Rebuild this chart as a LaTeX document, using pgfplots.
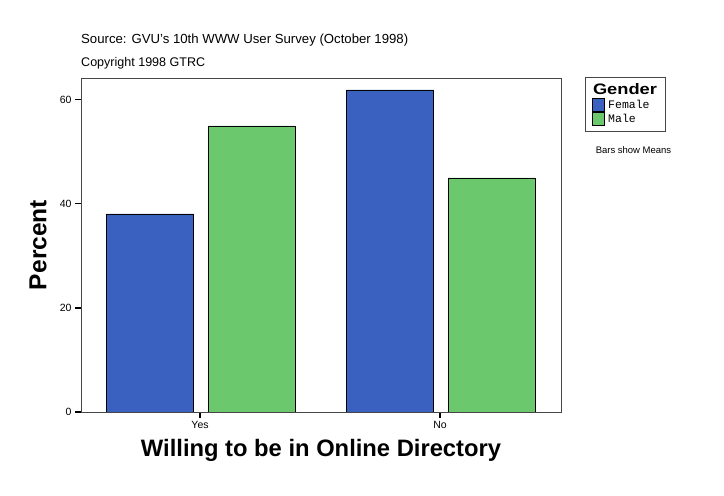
\documentclass[border=0pt]{standalone}
\usepackage{fontspec}
\setmainfont{Liberation Sans}
\newfontfamily\monofont{Liberation Mono}
\usepackage{pgfplots}
\pgfplotsset{compat=1.18}
\definecolor{fem}{RGB}{58,96,192}
\definecolor{mal}{RGB}{108,200,108}
\definecolor{framec}{RGB}{70,70,70}

\begin{document}
\begin{tikzpicture}[x=1pt,y=1pt]
\path[fill=white] (0,0) rectangle (724,496);
\begin{axis}[
  at={(81pt,84pt)}, anchor=south west,
  width=480pt, height=334pt, scale only axis,
  xmin=-0.496, xmax=1.504, ymin=0, ymax=64.2,
  xtick={0,1}, xticklabels={Yes,No},
  ytick={0,20,40,60},
  tick pos=left, tick align=outside,
  major tick length=6pt,
  tick style={black, line width=1.2pt},
  axis line style={framec},
  ticklabel style={font=\fontsize{10.5}{12}\selectfont},
  /pgf/number format/assume math mode=true,
  ybar, bar width=0.3625,
]
\addplot[fill=fem, draw=black, bar shift=-0.208] coordinates {(0,38.1) (1,61.9)};
\addplot[fill=mal, draw=black, bar shift=0.215] coordinates {(0,55) (1,45)};
\end{axis}
\node[anchor=west, inner sep=0pt] at (81,456) {\resizebox{327pt}{!}{Source: GVU's 10th WWW User Survey (October 1998)}};
\node[anchor=west, inner sep=0pt] at (81,433) {\resizebox{124pt}{!}{Copyright 1998 GTRC}};
\node at (321,46) {\resizebox{360pt}{!}{\bfseries Willing to be in Online Directory}};
\node[rotate=90] at (38,251) {\resizebox{90pt}{!}{\bfseries Percent}};
\draw[framec] (585,419) rectangle (665,365);
\node at (625,407) {\resizebox{64pt}{11pt}{\bfseries Gender}};
\draw[fill=fem] (592,398) rectangle (604,385);
\draw[fill=mal] (592,384) rectangle (604,371);
\node[anchor=west, font=\monofont\fontsize{11.5}{12}\selectfont, inner sep=0pt] at (608,392) {Female};
\node[anchor=west, font=\monofont\fontsize{11.5}{12}\selectfont, inner sep=0pt] at (608,378) {Male};
\node[font=\fontsize{9.5}{10}\selectfont] at (633.5,346) {Bars show Means};
\end{tikzpicture}
\end{document}
